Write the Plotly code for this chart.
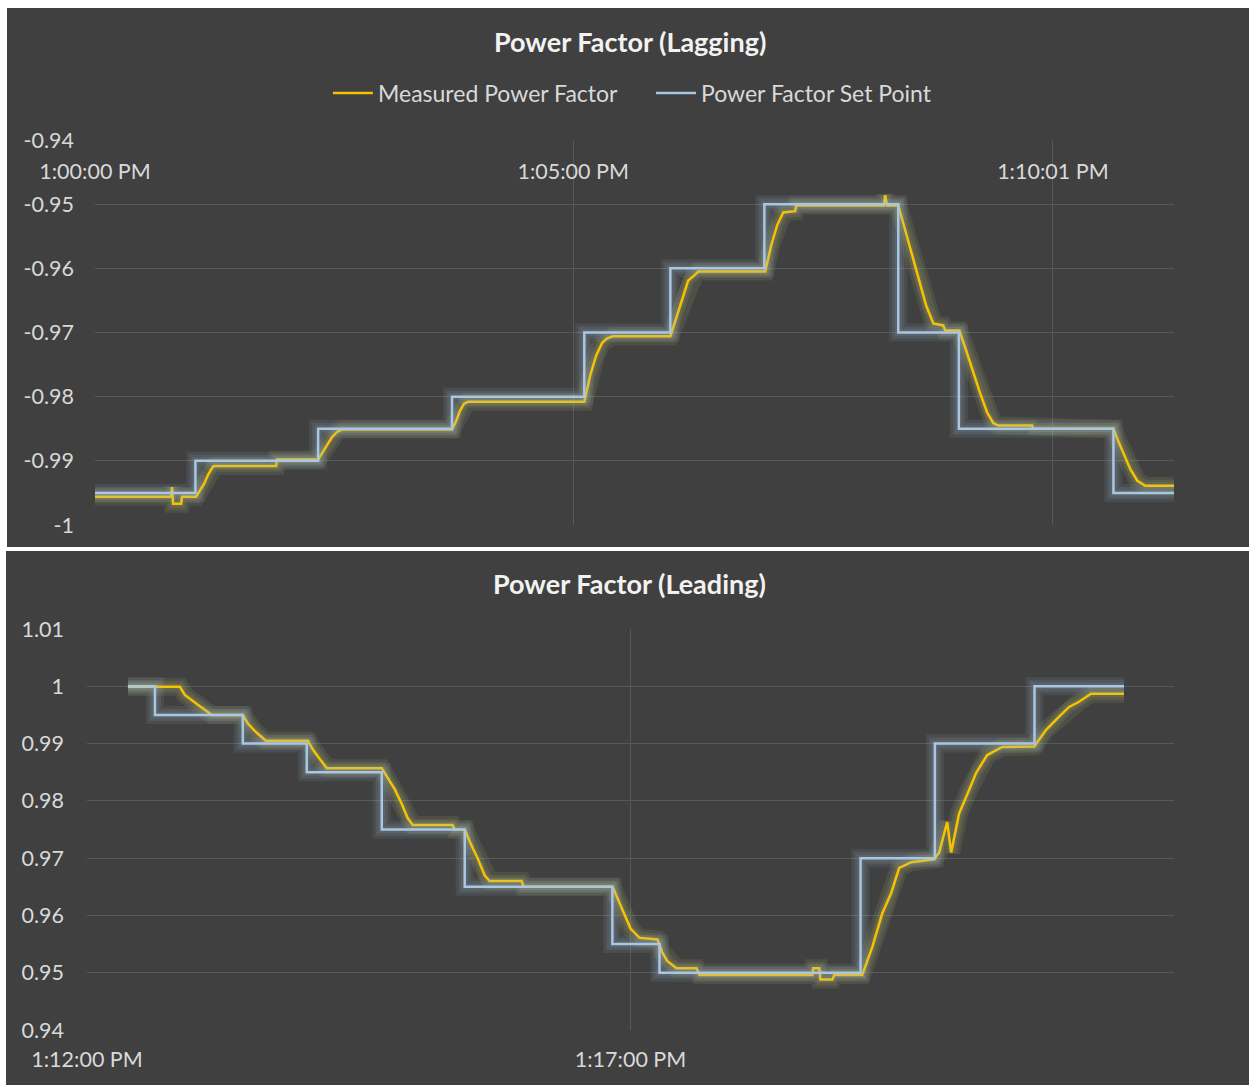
import plotly.graph_objects as go

W, H = 1249, 1085

# ---------------- data ----------------
series_names = ["Measured Power Factor", "Power Factor Set Point"]

# Top chart: Power Factor (Lagging) -- seconds after 1:00:00 PM
lag_x_tick_sec = [0, 300, 601]
lag_x_tick_text = ["1:00:00 PM", "1:05:00 PM", "1:10:01 PM"]
lag_y_tick_vals = [-0.94, -0.95, -0.96, -0.97, -0.98, -0.99, -1.0]
lag_y_tick_text = ["-0.94", "-0.95", "-0.96", "-0.97", "-0.98", "-0.99", "-1"]

lag_set_t = [0, 63, 140, 224, 307, 361, 420, 504, 542, 639, 677]
lag_set_v = [-0.995, -0.99, -0.985, -0.98, -0.97, -0.96, -0.95, -0.97, -0.985, -0.995, -0.995]

lag_meas_t = [0, 47.7, 48.3, 49, 54, 54.6, 63.4, 65.9, 68.4, 70.9, 74, 75.3, 113.6, 114.2,
              140, 142.5, 145.6, 148.7, 151.9, 155, 224, 226.6, 229, 231.6, 234, 307,
              310.7, 314.4, 318.2, 321.3, 325, 361, 364.6, 368.4, 372.2, 376, 378.5,
              420.5, 424.3, 428, 431.8, 439.3, 440, 495, 495.8, 497, 504, 508.4, 512.7,
              517.2, 521.5, 526, 532.2, 533.5, 542.3, 546.6, 551, 555.4, 559.8, 563.6,
              566.7, 588, 588.6, 639, 642, 645.8, 649.6, 654, 659, 677]
lag_meas_v = [-0.9956, -0.9956, -0.9941, -0.9967, -0.9967, -0.9956, -0.9956, -0.9947, -0.9936,
              -0.9922, -0.9909, -0.9908, -0.9908, -0.9898, -0.9898, -0.9888, -0.9875, -0.9863,
              -0.9855, -0.9851, -0.9851, -0.9838, -0.9822, -0.9811, -0.9808, -0.9808, -0.9767,
              -0.9736, -0.9716, -0.9709, -0.9706, -0.9706, -0.9678, -0.965, -0.9619, -0.9611,
              -0.9605, -0.9605, -0.9564, -0.9533, -0.9513, -0.9511, -0.9502, -0.9502, -0.9486,
              -0.9502, -0.9502, -0.9541, -0.958, -0.9619, -0.9658, -0.9686, -0.9689, -0.9697,
              -0.9697, -0.9728, -0.9763, -0.9795, -0.9825, -0.9841, -0.9845, -0.9845, -0.985,
              -0.985, -0.9869, -0.9892, -0.9913, -0.9931, -0.9939, -0.9939]

# Bottom chart: Power Factor (Leading) -- seconds after 1:12:00 PM
lead_x_tick_sec = [0, 300]
lead_x_tick_text = ["1:12:00 PM", "1:17:00 PM"]
lead_y_tick_vals = [0.94, 0.95, 0.96, 0.97, 0.98, 0.99, 1.0, 1.01]
lead_y_tick_text = ["0.94", "0.95", "0.96", "0.97", "0.98", "0.99", "1", "1.01"]

lead_set_t = [22.6, 37.5, 86, 121.3, 162.7, 208.5, 290, 316, 427, 468, 523, 572.4]
lead_set_v = [1.0, 0.995, 0.99, 0.985, 0.975, 0.965, 0.955, 0.95, 0.97, 0.99, 1.0, 1.0]

lead_meas_t = [22.6, 51.3, 54.0, 57.9, 62.3, 66.7, 68.9, 86.0, 88.8, 92.6, 96.5, 98.7, 121.9,
               124.6, 128.5, 132.4, 162.7, 166.0, 169.9, 173.7, 177.0, 179.8, 201.8, 202.9,
               208.5, 211.8, 215.6, 219.5, 222.2, 239.9, 241.0, 290.1, 293.4, 296.7, 300.0,
               305.0, 314.9, 317.6, 320.4, 325.4, 336.4, 338.1, 400.4, 400.9, 404.2, 404.8,
               411.4, 412.5, 427.9, 433.5, 439.0, 443.9, 448.3, 455.0, 467.6, 470.4, 474.8,
               477.0, 481.4, 486.9, 490.8, 496.9, 505.2, 522.8, 529.4, 536.6, 542.1, 547.6,
               554.2, 572.4]
lead_meas_v = [0.9999, 0.9999, 0.9985, 0.9975, 0.9965, 0.9955, 0.995, 0.995, 0.9935, 0.9922,
               0.991, 0.9905, 0.9905, 0.989, 0.9873, 0.9857, 0.9857, 0.984, 0.982, 0.9795,
               0.977, 0.9758, 0.9758, 0.975, 0.975, 0.9725, 0.97, 0.967, 0.966, 0.966, 0.965,
               0.965, 0.9625, 0.96, 0.9577, 0.9561, 0.9558, 0.9535, 0.952, 0.9508, 0.9508,
               0.9496, 0.9496, 0.9508, 0.9508, 0.9488, 0.9488, 0.9496, 0.9496, 0.9545, 0.9604,
               0.9639, 0.9683, 0.9693, 0.9698, 0.971, 0.9763, 0.971, 0.9778, 0.9819, 0.9849,
               0.988, 0.9894, 0.9895, 0.9924, 0.9947, 0.9964, 0.9973, 0.9987, 0.9987]

# ---------------- style ----------------
BG = "#404040"
GRID = "#585858"
TXT = "#d9d9d9"
TITLE = "#f2f2f2"
YELLOW = "#f7c200"
BLUE = "#a9c6e4"
FONT = "Lato, Open Sans, sans-serif"


def px_x(p):
    # window pixel -> paper fraction
    return p / W


def px_y(p):
    return 1 - p / H


fig = go.Figure()


def add_series(t, v, xa, ya, name, color, shape, legend):
    # soft glow underneath the line
    glow = "rgba(205,215,130,0.10)" if color == YELLOW else "rgba(170,195,220,0.10)"
    for wdt in (18, 12, 7):
        fig.add_trace(go.Scatter(x=t, y=v, xaxis=xa, yaxis=ya, mode="lines",
                                 line=dict(color=glow, width=wdt, shape=shape),
                                 showlegend=False, hoverinfo="skip"))
    fig.add_trace(go.Scatter(x=t, y=v, xaxis=xa, yaxis=ya, mode="lines", name=name,
                             line=dict(color=color, width=2.5, shape=shape),
                             showlegend=legend))


add_series(lag_meas_t, lag_meas_v, "x", "y", series_names[0], YELLOW, "linear", True)
add_series(lag_set_t, lag_set_v, "x", "y", series_names[1], BLUE, "hv", True)
add_series(lead_meas_t, lead_meas_v, "x2", "y2", series_names[0], YELLOW, "linear", False)
add_series(lead_set_t, lead_set_v, "x2", "y2", series_names[1], BLUE, "hv", False)

axis_common = dict(showgrid=True, gridcolor=GRID, gridwidth=1, zeroline=False,
                   showline=False, ticks="", automargin=False,
                   tickfont=dict(family=FONT, size=21.5, color=TXT))

fig.update_layout(
    width=W, height=H, autosize=False,
    margin=dict(l=0, r=0, t=0, b=0, pad=0),
    paper_bgcolor="white", plot_bgcolor="rgba(0,0,0,0)",
    font=dict(family=FONT, color=TXT),
    showlegend=True,
    legend=dict(orientation="h", x=px_x(328), xanchor="left", y=px_y(93), yanchor="middle",
                font=dict(family=FONT, size=23, color=TXT), bgcolor="rgba(0,0,0,0)",
                itemwidth=40, entrywidth=268, entrywidthmode="pixels",
                traceorder="normal"),
    xaxis=dict(domain=[px_x(95), px_x(1174)], range=[0, 677], anchor="free",
               position=px_y(183), side="top",
               tickvals=lag_x_tick_sec, ticktext=lag_x_tick_text, **axis_common),
    yaxis=dict(domain=[px_y(525), px_y(140)], range=[-1.0, -0.94], anchor="x",
               tickvals=lag_y_tick_vals, ticktext=lag_y_tick_text, ticklabelstandoff=20,
               **axis_common),
    xaxis2=dict(domain=[px_x(87), px_x(1174)], range=[0, 600], anchor="y2",
                tickvals=lead_x_tick_sec, ticktext=lead_x_tick_text, ticklabelstandoff=14,
                **axis_common),
    yaxis2=dict(domain=[px_y(1030), px_y(629)], range=[0.94, 1.01], anchor="x2",
                tickvals=lead_y_tick_vals, ticktext=lead_y_tick_text, ticklabelstandoff=22,
                **axis_common),
    shapes=[
        dict(type="rect", xref="paper", yref="paper", x0=px_x(7), x1=1, y0=px_y(547),
             y1=px_y(8), fillcolor=BG, line=dict(width=0), layer="below"),
        dict(type="rect", xref="paper", yref="paper", x0=px_x(6), x1=1, y0=0,
             y1=px_y(551), fillcolor=BG, line=dict(width=0), layer="below"),
    ],
    annotations=[
        dict(text="<b>Power Factor (Lagging)</b>", xref="paper", yref="paper",
             x=px_x(630), y=px_y(42), xanchor="center", yanchor="middle", showarrow=False,
             font=dict(family=FONT, size=27, color=TITLE)),
        dict(text="<b>Power Factor (Leading)</b>", xref="paper", yref="paper",
             x=px_x(629), y=px_y(583), xanchor="center", yanchor="middle", showarrow=False,
             font=dict(family=FONT, size=27, color=TITLE)),
    ],
)

# remove the browser's default 8px body margin so the figure fills the window exactly
fig.write_html("out.html",
               config={"displayModeBar": False},
               post_script="document.body.style.margin='0px';"
                           "document.body.style.overflow='hidden';")
